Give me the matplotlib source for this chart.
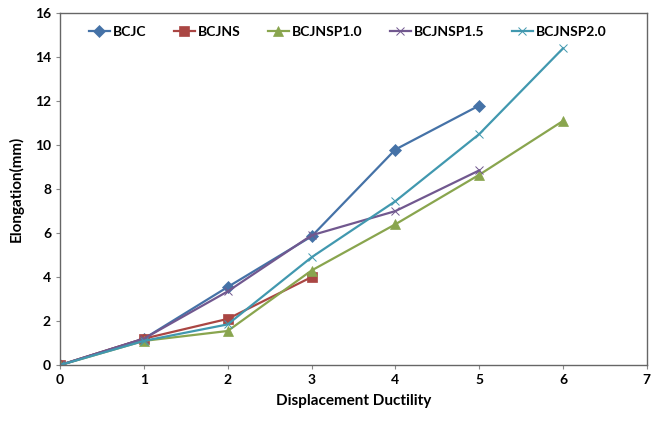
import matplotlib
matplotlib.use("Agg")
import matplotlib.pyplot as plt

plt.rcParams['font.family'] = ['Lato', 'DejaVu Sans']
plt.rcParams['font.weight'] = 'bold'

ductility = [0, 1, 2, 3, 4, 5, 6]

bcjc = [0, 1.2, 3.55, 5.85, 9.8, 11.8]
bcjns = [0, 1.2, 2.1, 4.0]
bcjnsp10 = [0, 1.1, 1.55, 4.3, 6.4, 8.65, 11.1]
bcjnsp15 = [0, 1.2, 3.35, 5.9, 7.0, 8.85]
bcjnsp20 = [0, 1.1, 1.85, 4.9, 7.45, 10.5, 14.4]

series = [
    ("BCJC", bcjc, "#4572A7", "D", 6),
    ("BCJNS", bcjns, "#AA4643", "s", 7),
    ("BCJNSP1.0", bcjnsp10, "#89A54E", "^", 7),
    ("BCJNSP1.5", bcjnsp15, "#71588F", "x", 6),
    ("BCJNSP2.0", bcjnsp20, "#4198AF", "x", 6),
]

fig = plt.figure(figsize=(6.6, 4.25), dpi=100)
ax = fig.add_axes([0.091, 0.141, 0.889, 0.828])

for name, vals, col, mk, ms in series:
    ax.plot(ductility[:len(vals)], vals, color=col, marker=mk, markersize=ms,
            linewidth=1.6, label=name, markeredgewidth=0.7 if mk == "x" else 0.5)

ax.set_xlim(0, 7)
ax.set_ylim(0, 16)
ax.set_xticks(range(0, 8))
ax.set_yticks(range(0, 17, 2))
ax.tick_params(labelsize=10, length=3, width=0.8, color="#888888")
for lab in ax.get_xticklabels() + ax.get_yticklabels():
    lab.set_fontweight('bold')
for sp in ax.spines.values():
    sp.set_color("#666666")
    sp.set_linewidth(1)

ax.set_xlabel("Displacement Ductility", fontsize=11, fontweight='bold', labelpad=6)
ax.set_ylabel("Elongation(mm)", fontsize=11, fontweight='bold', labelpad=8)

ax.legend(loc="upper center", ncol=5, frameon=False,
          handlelength=1.5, handletextpad=0.2, columnspacing=2.0,
          bbox_to_anchor=(0.49, 1.0), prop={'weight': 'bold', 'size': 10})

fig.savefig("out.png", dpi=100)
